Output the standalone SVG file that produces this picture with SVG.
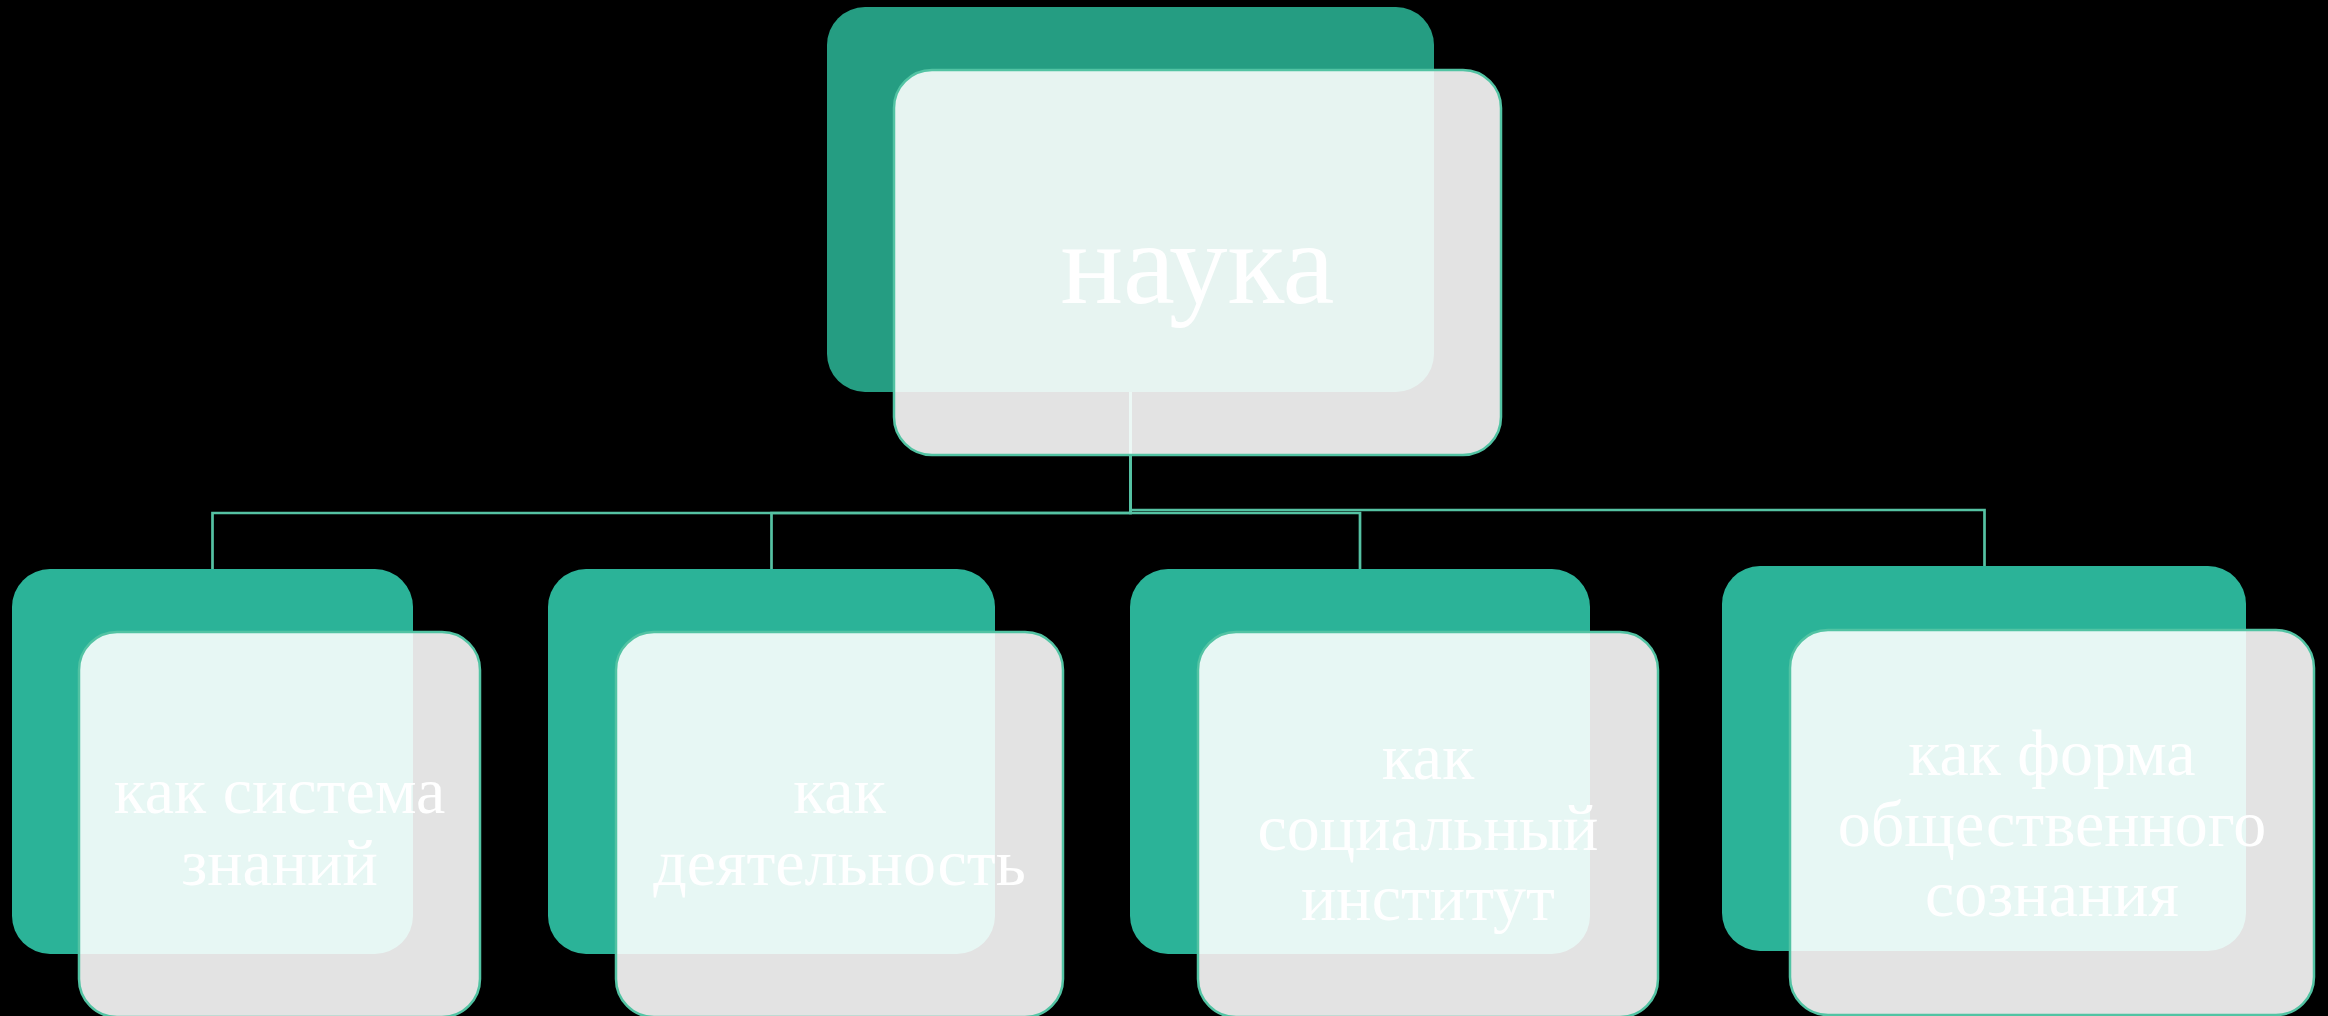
<svg xmlns="http://www.w3.org/2000/svg" width="2328" height="1016" viewBox="0 0 2328 1016">
<style>
.bgr{fill:#2BB398}
.bgt{fill:#259D82}
.fr{fill:#FFFFFF;fill-opacity:0.89;stroke:#52C3A3;stroke-width:2.5}
.conn{fill:none;stroke:#55C2A3;stroke-width:2.7}
.t{font-family:"Liberation Serif","Times New Roman",serif;fill:#FFFFFF;text-anchor:middle}
.ts{font-size:66px}
.tb{font-size:117px}
</style>
<rect x="0" y="0" width="2328" height="1016" fill="#000000"/>
<g id="connectors">
<polyline class="conn" points="1130.5,392 1130.5,513 212.5,513 212.5,569"/>
<polyline class="conn" points="1130.5,392 1130.5,513 771.5,513 771.5,569"/>
<polyline class="conn" points="1130.5,392 1130.5,513 1360,513 1360,569"/>
<polyline class="conn" points="1130.5,392 1130.5,510 1984.5,510 1984.5,566"/>
</g>
<g id="node-nauka">
<rect class="bgt" x="827" y="7" width="607" height="385" rx="38"/>
<rect class="fr" x="894" y="70" width="607" height="385" rx="38"/>
<text class="t tb" x="1197.5" y="303">наука</text>
</g>
<g id="node-1">
<rect class="bgr" x="12" y="569" width="401" height="385" rx="38"/>
<rect class="fr" x="79" y="632" width="401" height="385" rx="38"/>
<text class="t ts" x="279.5" y="813">как система</text>
<text class="t ts" x="279.5" y="885">знаний</text>
</g>
<g id="node-2">
<rect class="bgr" x="548" y="569" width="447" height="385" rx="38"/>
<rect class="fr" x="616" y="632" width="447" height="385" rx="38"/>
<text class="t ts" x="839.5" y="813">как</text>
<text class="t ts" x="839.5" y="885">деятельность</text>
</g>
<g id="node-3">
<rect class="bgr" x="1130" y="569" width="460" height="385" rx="38"/>
<rect class="fr" x="1198" y="632" width="460" height="385" rx="38"/>
<text class="t ts" x="1428" y="779">как</text>
<text class="t ts" x="1428" y="850">социальный</text>
<text class="t ts" x="1428" y="920">институт</text>
</g>
<g id="node-4">
<rect class="bgr" x="1722" y="566" width="524" height="385" rx="38"/>
<rect class="fr" x="1790" y="630" width="524" height="385" rx="38"/>
<text class="t ts" x="2052" y="775">как форма</text>
<text class="t ts" x="2052" y="846">общественного</text>
<text class="t ts" x="2052" y="916">сознания</text>
</g>
</svg>
